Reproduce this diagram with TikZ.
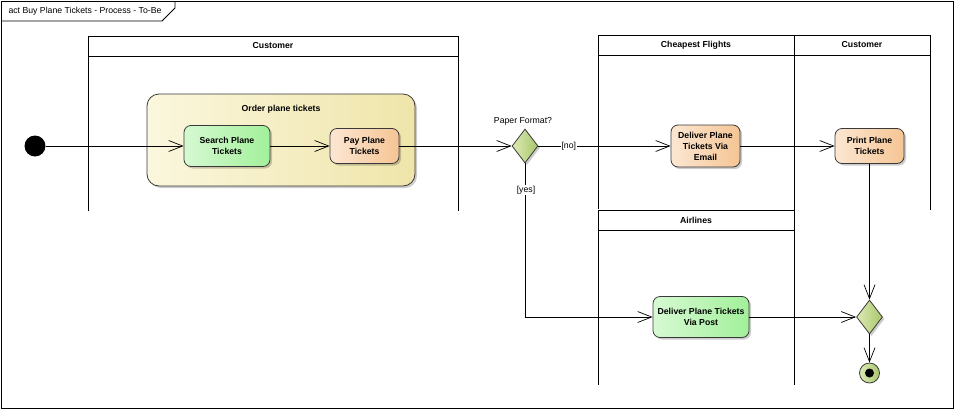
\documentclass[tikz,border=0pt]{standalone}
\usepackage{fontspec}
\setmainfont{Liberation Sans}
\usetikzlibrary{arrows.meta,shapes.geometric,shadows}
\definecolor{grnL}{HTML}{D6F9D2}
\definecolor{grnR}{HTML}{A2F09A}
\definecolor{orgL}{HTML}{FCE6D2}
\definecolor{orgR}{HTML}{F5C594}
\definecolor{grpL}{HTML}{FBF7DE}
\definecolor{grpR}{HTML}{EFE5AA}
\definecolor{decL}{HTML}{DDEBB4}
\definecolor{decR}{HTML}{A8C66C}
\definecolor{edgeC}{HTML}{3A3A3A}
\tikzset{
  txt/.style={font=\fontsize{8.7}{11}\selectfont},
  btxt/.style={font=\fontsize{8.7}{11}\selectfont\bfseries},
  shad/.style={drop shadow={shadow xshift=2pt,shadow yshift=-2pt,opacity=0.2,fill=black}},
  action/.style={rectangle,rounded corners=7pt,draw=edgeC,line width=0.8pt,inner sep=1pt,align=center,btxt,shad},
  greenact/.style={action,left color=grnL,right color=grnR},
  orangeact/.style={action,left color=orgL,right color=orgR},
  grp/.style={rectangle,rounded corners=12pt,draw=edgeC,line width=0.8pt,left color=grpL,right color=grpR,shad},
  decis/.style={diamond,draw=edgeC,line width=0.8pt,inner sep=0pt,minimum width=26pt,minimum height=34pt,left color=decL,right color=decR,shad},
  flow/.style={draw=black,line width=0.7pt,-{Straight Barb[length=14pt,width=11pt,line width=0.7pt]}},
  lane/.style={draw=black,line width=0.8pt},
  lbl/.style={txt,fill=white,inner sep=1pt}
}
\begin{document}
\begin{tikzpicture}[x=1pt,y=-1pt]
\useasboundingbox (0,0) rectangle (955,410);
% frame
\draw[line width=0.8pt] (1.5,1.5) rectangle (953.5,408.5);
\draw[line width=0.8pt] (1.5,21) -- (162,21) -- (175,8) -- (175,1.5);
\node[txt,anchor=west] (title) at (5,11) {act Buy Plane Tickets - Process - To-Be};
% lane Customer 1
\draw[lane] (88,211) -- (88,36) -- (458,36) -- (458,211);
\draw[lane] (88,56) -- (458,56);
\node[btxt] (h1) at (273,46) {Customer};
% lane Cheapest Flights
\draw[lane] (598,209) -- (598,35) -- (794,35) -- (794,209);
\draw[lane] (598,55) -- (794,55);
\node[btxt] (h2) at (696,45) {Cheapest Flights};
% lane Customer 2
\draw[lane] (794,210) -- (794,35) -- (930,35) -- (930,210);
\draw[lane] (794,55) -- (930,55);
\node[btxt] (h3) at (862,45) {Customer};
% lane Airlines
\draw[lane] (598,385) -- (598,210) -- (794,210) -- (794,385);
\draw[lane] (598,230) -- (794,230);
\node[btxt] (h4) at (696,220) {Airlines};
% group
\node[grp,minimum width=268pt,minimum height=92pt] (group) at (281,140) {};
\node[btxt] (grplbl) at (281,109) {Order plane tickets};
% nodes
\node[circle,fill=black,minimum size=21pt,inner sep=0pt] (init) at (35,146) {};
\node[greenact,minimum width=86pt,minimum height=41pt] (search) at (227,146) {Search Plane\\Tickets};
\node[orangeact,minimum width=69pt,minimum height=35pt] (pay) at (364.5,146) {Pay Plane\\Tickets};
\node[decis] (dec) at (525,146) {};
\node[txt] (declbl) at (523,121) {Paper Format?};
\node[orangeact,minimum width=69pt,minimum height=42pt] (email) at (705.5,146) {Deliver Plane\\Tickets Via\\Email};
\node[orangeact,minimum width=69pt,minimum height=35pt] (print) at (869.5,146) {Print Plane\\Tickets};
\node[greenact,minimum width=96pt,minimum height=41pt] (post) at (701,317) {Deliver Plane Tickets\\Via Post};
\node[decis] (merge) at (869.5,317) {};
\node[circle,draw=edgeC,line width=0.8pt,left color=decL,right color=decR,minimum size=20pt,inner sep=0pt] (final) at (869.5,373) {};
\node[circle,fill=black,minimum size=9pt,inner sep=0pt] (finalin) at (final.center) {};
% edges
\draw[flow] (init) -- (search);
\draw[flow] (search) -- (pay);
\draw[flow] (pay) -- (dec);
\draw[flow] (dec) -- node[lbl,pos=0.23] (no) {[no]} (email);
\draw[flow] (dec.south) |- (post.west);
\node[lbl] (yes) at (526,190) {[yes]};
\draw[flow] (email) -- (print);
\draw[flow] (print) -- (merge);
\draw[flow] (post) -- (merge);
\draw[flow] (merge) -- (final);
\end{tikzpicture}
\end{document}
